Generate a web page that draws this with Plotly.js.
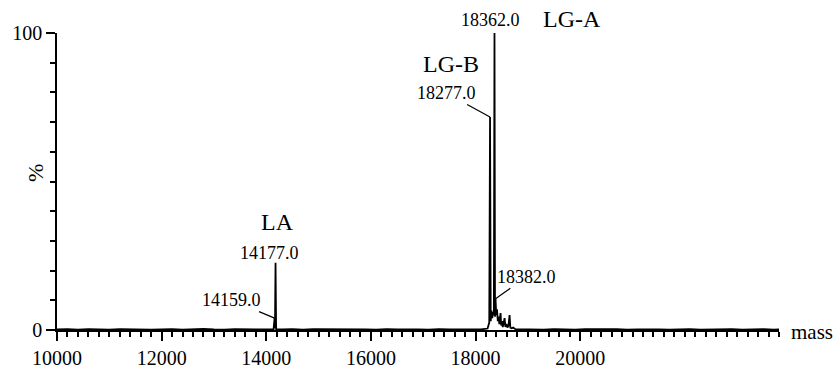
<!DOCTYPE html>
<html>
<head>
<meta charset="utf-8">
<script src="https://cdn.plot.ly/plotly-3.0.1.min.js"></script>
<style>html,body{margin:0;padding:0;background:#fff;}#chart{width:837px;height:370px;}</style>
</head>
<body>
<div id="chart"></div>
<script>
// Baseline noise (mass, % intensity)
const baseMass = [10000,10200,10400,10600,10800,11000,11200,11400,11600,11800,12000,12200,12400,12600,12800,13000,13200,13400,13600,13800,14000,
14300,14500,14700,14900,15100,15300,15500,15700,15900,16100,16300,16500,16700,16900,17100,17300,17500,17700,17900,18100,
18900,19100,19300,19500,19700,19900,20100,20300,20500,20700,20900,21100,21300,21500,21700,21900,22100,22300,22500,22700,22900,23100,23300,23500,23700,23800];
const baseInt = [0.2,0.3,0.1,0.3,0.2,0.1,0.3,0.2,0.3,0.1,0.2,0.3,0.1,0.3,0.4,0.2,0.1,0.3,0.2,0.3,0.2,
0.2,0.3,0.1,0.3,0.3,0.2,0.3,0.4,0.2,0.1,0.3,0.2,0.3,0.2,0.1,0.3,0.2,0.3,0.2,0.2,
0.2,0.3,0.1,0.3,0.2,0.1,0.3,0.2,0.3,0.3,0.1,0.2,0.3,0.2,0.1,0.3,0.3,0.1,0.2,0.2,0.3,0.1,0.2,0.3,0.1,0.2];
// Peaks (mass, % intensity)
const peakMass = [14140,14159,14166,14177,14188,
18230,18262,18277,18290,18305,18320,18335,18350,18362,18372,18382,18395,18410,18425,18440,18455,18470,18478,18490,18505,
18520,18540,18555,18570,18590,18610,18630,18650,18665,18690,18720,18760];
const peakInt = [0.3,4.0,0.6,22.6,0.3,
0.5,2.5,71.7,3.0,6.5,4.0,6.0,5.0,100,4.5,10.5,5.0,7.0,3.0,4.5,2.0,3.5,5.7,1.5,3.0,
1.0,2.5,4.0,1.0,2.0,0.8,1.5,5.0,0.8,0.6,0.8,0.3];
// Axis ticks
const xTickVals = [10000,11000,12000,13000,14000,15000,16000,17000,18000,19000,20000,21000,22000,23000];
const xTickText = ['10000','','12000','','14000','','16000','','18000','','20000','','',''];
const yTickVals = [0,100];
const yTickText = ['0','100'];
// Labels
const labelNames = ['LG-A','LG-B','LA'];
const peakLabels = ['18362.0','18277.0','18382.0','14177.0','14159.0'];

// minor tick positions (axis configuration)
const xMinor = []; for (let v = 10000; v <= 23800; v += 200) xMinor.push(v);

const pts = baseMass.map((m,i)=>[m,baseInt[i]]).concat(peakMass.map((m,i)=>[m,peakInt[i]]));
pts.sort((a,b)=>a[0]-b[0]);

const FONT = '"Liberation Serif", "Times New Roman", serif';
const trace = {
  x: pts.map(p=>p[0]), y: pts.map(p=>p[1]),
  type: 'scatter', mode: 'lines',
  line: {color: '#000', width: 1.8},
  hoverinfo: 'skip'
};

const ann = [];
const txt = (text, x, y, yref, size) => ({text, x, y, xref:'x', yref, showarrow:false,
  font:{family:FONT, size, color:'#000'}, xanchor:'center', yanchor:'middle'});
ann.push(txt(peakLabels[0], 18280, 1.044, 'paper', 18));
ann.push(txt(labelNames[0], 19847, 1.047, 'paper', 24));
ann.push(txt(labelNames[1], 17536, 89.6, 'y', 24));
ann.push(txt(labelNames[2], 14209, 36.4, 'y', 24));
ann.push(txt(peakLabels[3], 14056, 25.9, 'y', 18));
const arr = (text, x, y, ax, ay) => ({text, x, y, xref:'x', yref:'y', ax, ay, showarrow:true,
  arrowhead:0, arrowwidth:1.2, arrowcolor:'#000', standoff:0, startstandoff:0,
  font:{family:FONT, size:18, color:'#000'}});
ann.push(arr(peakLabels[1], peakMass[7], peakInt[7], -44, -24));
ann.push(arr(peakLabels[2], peakMass[15], peakInt[15], 31, -22));
ann.push(arr(peakLabels[4], peakMass[1], peakInt[1], -43, -18));
ann.push({text:'%', xref:'paper', yref:'paper', x:-0.030, y:0.53, showarrow:false, textangle:-90,
  xanchor:'center', yanchor:'middle', font:{family:FONT, size:22, color:'#000'}});
ann.push({text:'mass', xref:'paper', yref:'paper', x:1.046, y:-0.006, showarrow:false,
  font:{family:FONT, size:21, color:'#000'}, xanchor:'center', yanchor:'middle'});

const layout = {
  width: 837, height: 370,
  margin: {l:57, r:58, t:33, b:40},
  paper_bgcolor: '#fff', plot_bgcolor: '#fff',
  showlegend: false,
  font: {family: FONT, size: 20, color: '#000'},
  xaxis: {
    range: [10000, 23800], showline: true, linecolor: '#000', linewidth: 1.5,
    ticks: 'outside', ticklen: 9, tickwidth: 2, tickcolor: '#000',
    tickmode: 'array', tickvals: xTickVals, ticktext: xTickText,
    minor: {tickmode: 'array', tickvals: xMinor, ticks: 'outside', ticklen: 5, tickwidth: 2, tickcolor: '#000'},
    showgrid: false, zeroline: false, tickfont: {family: FONT, size: 20, color: '#000'}
  },
  yaxis: {
    range: [0, 100], showline: true, linecolor: '#000', linewidth: 1.5,
    ticks: 'outside', ticklen: 9, tickwidth: 1.5, tickcolor: '#000',
    tickmode: 'array', tickvals: yTickVals, ticktext: yTickText,
    minor: {tickmode: 'linear', tick0: 0, dtick: 10, ticks: 'outside', ticklen: 5, tickwidth: 1.5, tickcolor: '#000'},
    showgrid: false, zeroline: false, tickfont: {family: FONT, size: 20, color: '#000'}
  },
  annotations: ann
};
Plotly.newPlot('chart', [trace], layout, {displayModeBar: false});
</script>
</body>
</html>
